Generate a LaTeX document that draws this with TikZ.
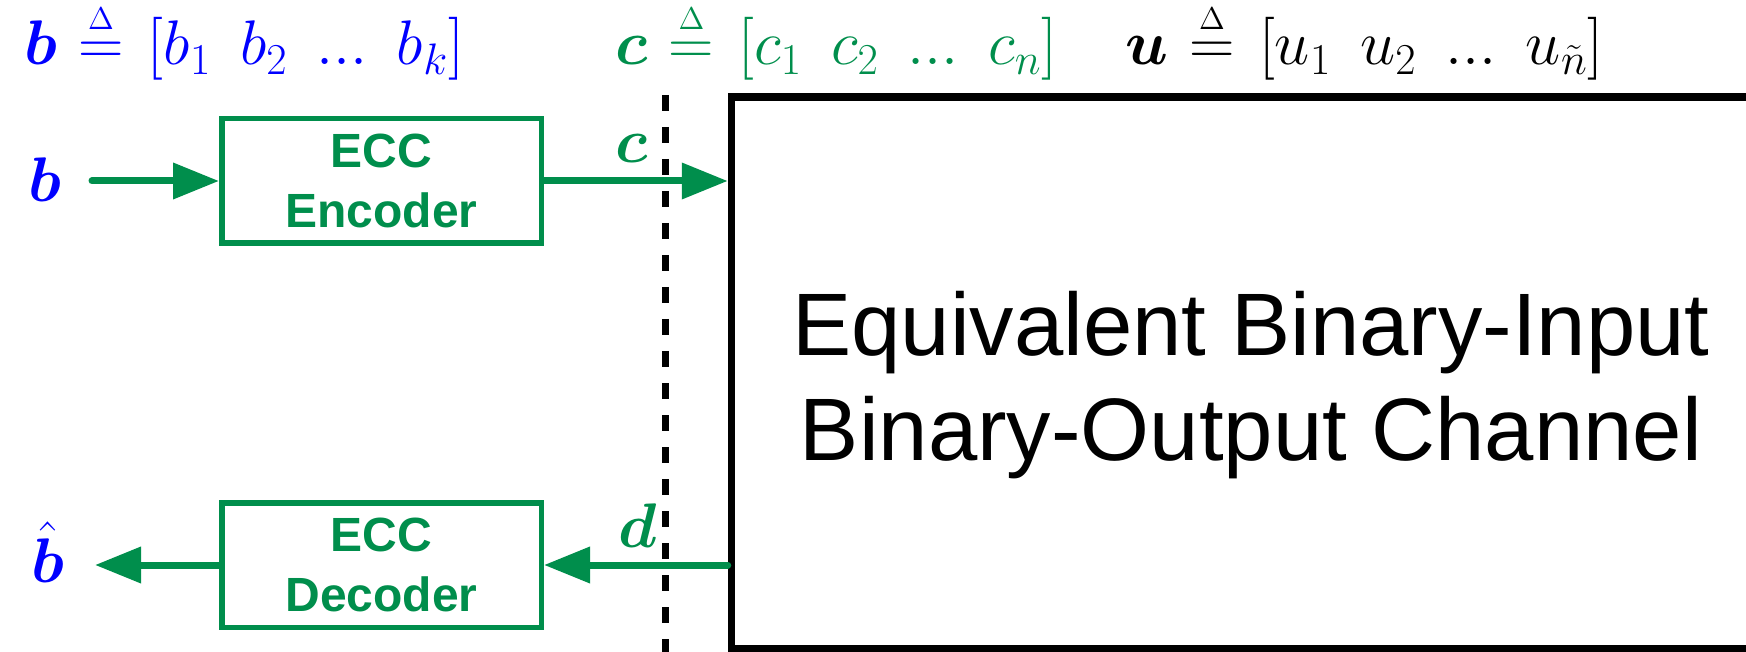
\RequirePackage{fix-cm}
\documentclass[tikz,border=0pt]{standalone}
\usepackage{amsmath,amssymb}
\usepackage{fontspec}
\newfontfamily\helv{Liberation Sans}
\usetikzlibrary{arrows.meta}
\definecolor{eccgreen}{RGB}{0,142,76}
\definecolor{symblue}{RGB}{0,0,255}
\newcommand{\defeq}{\mkern1mu\mathrel{\overset{\scriptscriptstyle\Delta}{=}}\mkern2mu}
\newcommand{\gp}{\hspace{0.46em}}
\begin{document}
\begin{tikzpicture}[x=0.5pt,y=-0.5pt,
  arr/.style={draw=eccgreen, line width=3.5pt, line cap=round, -{Triangle[length=23pt,width=17.5pt]}},
  eccbox/.style={draw=eccgreen, line width=2.75pt, minimum width=159.75pt, minimum height=62.25pt, inner sep=0pt, font=\helv\bfseries\fontsize{24}{30}\selectfont, text=eccgreen, align=center},
  mathlbl/.style={inner sep=0pt, font=\fontsize{31.5}{36}\selectfont},
  chanbox/.style={draw=black, line width=3.75pt, minimum width=534.25pt, minimum height=276pt, inner sep=0pt},
  divider/.style={draw=black, line width=3.5pt, dash pattern=on 8pt off 8pt}
]
\useasboundingbox (0,0) rectangle (1746,652);
\begin{scope}
  \clip (0,0) rectangle (1746,652);
  \node[chanbox] (chan) at (1265.75,373) {};
  \coordinate (dtop) at (665.5,95);
  \coordinate (dbot) at (665.5,670);
  \draw[divider] (dtop) -- (dbot);
\end{scope}

\node[mathlbl, text=symblue, anchor=base west] (bdef) at (24,65) {$\boldsymbol{b}\defeq[b_1\gp b_2\gp ...\gp b_k]$};
\node[mathlbl, text=eccgreen, anchor=base west] (cdef) at (615,65) {$\boldsymbol{c}\defeq[c_1\gp c_2\gp ...\gp c_n]$};
\node[mathlbl, text=black, anchor=base west] (udef) at (1125,65) {$\boldsymbol{u}\defeq[u_1\gp u_2\gp ...\gp u_{\tilde{n}}]$};

\node[mathlbl, text=symblue, anchor=base] (bin) at (45,202) {$\boldsymbol{b}$};
\node[eccbox] (enc) at (381.5,181) {ECC\\Encoder};
\node[eccbox] (dec) at (381.5,565) {ECC\\Decoder};
\node[mathlbl, text=symblue, anchor=base] (bout) at (48,582) {$\hat{\boldsymbol{b}}$};
\node[mathlbl, text=eccgreen, anchor=base] (clbl) at (632,163) {$\boldsymbol{c}$};
\node[mathlbl, text=eccgreen, anchor=base] (dlbl) at (638,547) {$\boldsymbol{d}$};
\node[font=\helv\fontsize{44.35}{52.5}\selectfont, align=center] (chantext) at (1251,385) {Equivalent Binary-Input\\Binary-Output Channel};

\coordinate (bstart) at (92,181);
\coordinate (bend) at (95,565);
\draw[arr] (bstart) -- (enc.west);
\draw[arr] (enc.east) -- (enc.east -| chan.west);
\draw[arr] (dec.east -| chan.west) -- (dec.east);
\draw[arr] (dec.west) -- (bend);
\end{tikzpicture}
\end{document}
